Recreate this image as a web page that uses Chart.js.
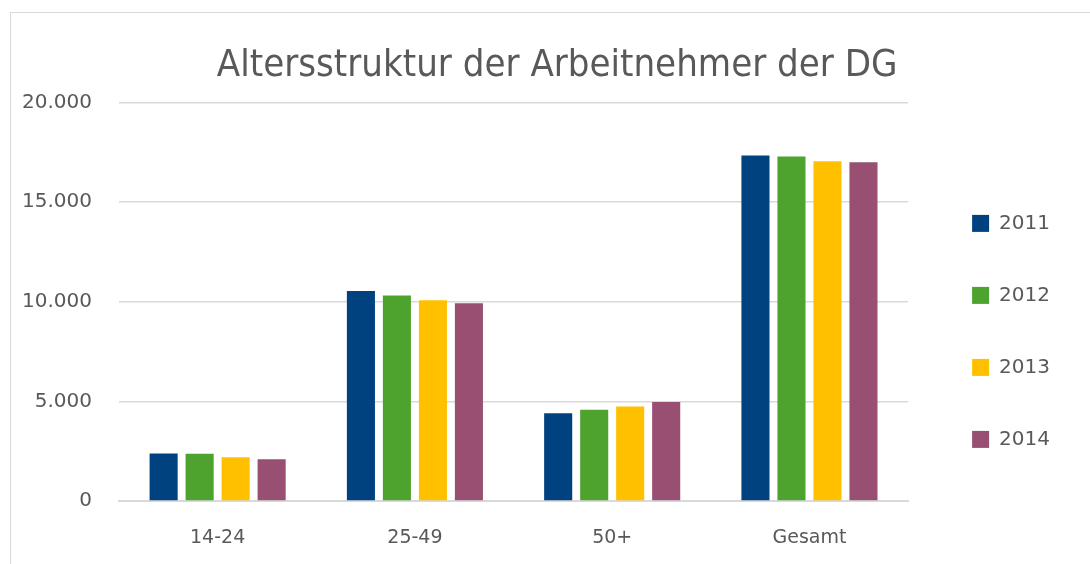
<!DOCTYPE html>
<html>
<head>
<meta charset="utf-8">
<script src="https://cdn.jsdelivr.net/npm/chart.js@4.4.1/dist/chart.umd.min.js"></script>
<style>
  html, body { margin: 0; padding: 0; background: #fff; }
  #wrap {
    position: absolute; left: 10px; top: 12px;
    width: 1079px; height: 551px;
    border-left: 1px solid #d9d9d9; border-top: 1px solid #d9d9d9;
  }
</style>
</head>
<body>
<div id="wrap"><canvas id="chart"></canvas></div>
<script>
// data
const categories = ['14-24', '25-49', '50+', 'Gesamt'];
const years = ['2011', '2012', '2013', '2014'];
const v2011 = [2390, 10540, 4410, 17340];
const v2012 = [2370, 10320, 4580, 17300];
const v2013 = [2200, 10080, 4750, 17060];
const v2014 = [2090, 9930, 4965, 17010];
const yTicks = [0, 5000, 10000, 15000, 20000];
const colors = ['#004280', '#4ea32f', '#ffc000', '#984f72'];

const grey = '#595959';
const tickFont = { family: 'DejaVu Sans', size: 20 };

const series = [v2011, v2012, v2013, v2014];
const datasets = series.map((vals, i) => ({
    label: years[i],
    data: vals,
    backgroundColor: colors[i],
    borderWidth: 0,
    categoryPercentage: 0.73,
    barPercentage: 0.78
}));

new Chart(document.getElementById('chart'), {
    type: 'bar',
    data: { labels: categories, datasets },
    options: {
        responsive: true,
        maintainAspectRatio: false,
        animation: false,
        layout: { padding: { top: 0, right: 30, bottom: 0, left: 0 } },
        plugins: {
            title: {
                display: true,
                // leading spaces nudge the centred title a little to the right
                text: '\u00a0\u00a0\u00a0\u00a0Altersstruktur der Arbeitnehmer der DG',
                color: grey,
                font: { family: 'DejaVu Sans Condensed', size: 38, weight: 'normal' },
                padding: { top: 30, bottom: 14 }
            },
            legend: {
                position: 'right',
                // empty title only pushes the items down
                title: { display: true, text: ' ', font: { size: 4 }, padding: { top: 41, bottom: 40 } },
                labels: {
                    color: grey,
                    font: tickFont,
                    boxWidth: 17,
                    boxHeight: 17,
                    padding: 52
                }
            },
            tooltip: { enabled: false }
        },
        scales: {
            x: {
                grid: { display: false },
                border: { color: '#d9d9d9', width: 2 },
                ticks: { color: grey, font: { family: 'DejaVu Sans', size: 19 }, padding: 18 },
                afterFit: axis => { axis.height = 63; }
            },
            y: {
                min: 0,
                max: 20000,
                afterBuildTicks: axis => { axis.ticks = yTicks.map(v => ({ value: v })); },
                afterFit: axis => { axis.width = 108; },
                grid: { color: '#d9d9d9', lineWidth: 1.5, drawTicks: false },
                border: { display: false },
                ticks: {
                    color: grey,
                    font: tickFont,
                    padding: 27,
                    callback: v => v.toLocaleString('de-DE')
                }
            },
            // empty spacer between plot and legend
            gap: {
                position: 'right',
                display: true,
                grid: { display: false },
                border: { display: false },
                ticks: { display: false },
                afterFit: axis => { axis.width = 12; }
            }
        }
    }
});
</script>
</body>
</html>
